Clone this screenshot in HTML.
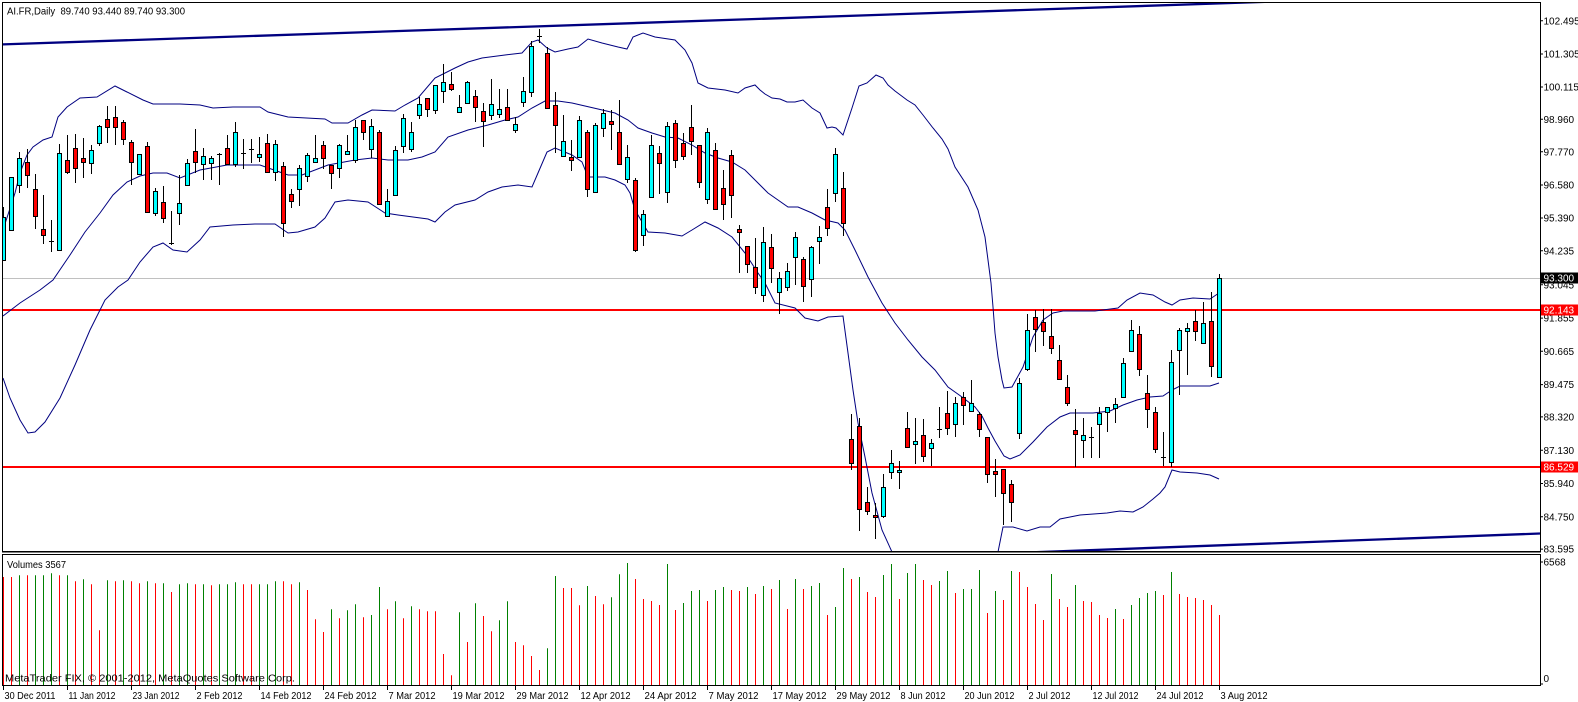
<!DOCTYPE html>
<html><head><meta charset="utf-8"><style>
html,body{margin:0;padding:0;background:#fff;}
svg{display:block;}
text{font-family:"Liberation Sans",Arial,sans-serif;font-size:10px;fill:#000;}
</style></head><body>
<svg width="1578" height="702" viewBox="0 0 1578 702" xmlns="http://www.w3.org/2000/svg">
<defs>
<clipPath id="cm"><rect x="3" y="3" width="1537" height="548"/></clipPath>
<clipPath id="cv"><rect x="3" y="555" width="1537" height="130"/></clipPath>
</defs>
<rect x="0" y="0" width="1578" height="702" fill="#fff"/>

<g clip-path="url(#cm)">
<line x1="3" y1="278.5" x2="1540" y2="278.5" stroke="#c0c0c0" stroke-width="1"/>
<line x1="3" y1="310" x2="1540" y2="310" stroke="#ff0000" stroke-width="2"/>
<line x1="3" y1="467" x2="1540" y2="467" stroke="#ff0000" stroke-width="2"/>
<line x1="0" y1="44.5" x2="1290" y2="1" stroke="#000080" stroke-width="2.3"/>
<line x1="1000" y1="553.5" x2="1540" y2="533.5" stroke="#000080" stroke-width="2.3"/>
<g fill="none" stroke="#000080" stroke-width="1">
<polyline points="3,230 15,193 20,173 27,155 33,147 43,140 52,137 58,117 67,107 80,98 97,97 115,86 127,92 143,100 153,104 180,104 200,105 213,108 233,107 260,107 268,112 288,117 325,119 332,123 348,123 362,115 372,110 395,111 405,105 418,98 435,78 455,68 468,62 482,58 505,55 522,53 532,42 538,40 547,48 555,52 568,49 578,47 588,39 602,43 618,47 627,49 633,37 643,33 655,37 675,40 685,50 692,63 698,83 708,88 725,90 738,93 745,88 755,85 760,90 765,94 772,98 780,99 787,102 795,102 803,100 812,108 820,113 827,128 832,127 836,128 843,135 852,108 859,86 867,83 876,75 883,78 888,85 895,91 907,100 915,105 923,115 933,128 942,139 948,149 955,167 968,187 978,210 985,237 988,260 991,283 993,307 995,333 998,357 1002,380 1004,388 1012,387 1023,367 1033,337 1043,320 1053,313 1063,311 1095,311 1118,308 1127,300 1140,293 1153,295 1165,302 1172,305 1180,300 1193,298 1210,299 1219,293"/>
<polyline points="3,316 20,303 40,290 53,280 70,255 85,232 100,213 113,195 127,182 140,176 153,173 167,173 180,178 200,170 227,165 260,165 288,175 302,175 328,165 355,160 372,158 388,160 408,160 422,157 435,152 448,137 468,130 488,125 505,120 518,117 532,108 545,101 558,101 572,103 585,106 598,109 615,113 628,120 638,128 652,133 665,137 678,138 692,145 705,153 718,158 732,162 745,170 755,180 768,193 788,207 798,207 812,213 825,220 838,223 845,230 855,250 868,277 882,303 895,323 908,340 922,357 935,370 948,387 962,397 975,407 982,416 988,428 995,441 1004,456 1010,459 1020,455 1033,442 1047,427 1060,417 1070,413 1093,413 1110,411 1123,405 1137,400 1150,397 1163,396 1172,390 1180,386 1193,386 1210,386 1219,383"/>
<polyline points="3,378 10,398 20,420 28,433 35,432 45,422 60,398 75,365 90,330 105,300 118,287 128,280 140,262 153,247 163,243 173,250 187,252 200,240 210,227 233,225 255,224 275,224 288,233 298,232 315,227 325,218 335,202 348,200 368,202 385,213 398,215 428,219 435,222 445,212 455,205 475,200 488,192 502,187 518,185 532,187 538,173 547,152 555,148 572,155 582,162 588,177 605,177 615,180 625,185 630,193 635,210 648,232 665,233 682,236 692,230 705,222 718,228 732,237 745,253 758,273 765,283 775,303 795,308 805,318 818,321 828,317 843,316 848,353 853,390 858,423 865,457 872,493 882,530 892,552 896,565"/>
<polyline points="995,565 998,552 1003,527 1013,527 1027,531 1040,527 1050,527 1060,519 1070,517 1080,515 1107,513 1120,511 1133,512 1143,507 1153,499 1160,493 1165,487 1172,470 1180,472 1197,473 1210,475 1219,479"/>
</g>
<path fill="none" stroke="#000" stroke-width="1" d="M3.5 207V260M11.5 177V230M19.5 152V193M27.5 149V188M35.5 174V229M43.5 195V244M51.5 220V252M59.5 144V250M67.5 135V174M75.5 134V183M83.5 138V178M91.5 145V174M99.5 125V146M107.5 106V143M115.5 106V145M123.5 120V145M131.5 140V185M139.5 154V174M147.5 142V213M155.5 188V216M163.5 186V223M171.5 211V245M179.5 175V225M187.5 159V185M195.5 129V173M203.5 148V180M211.5 156V180M219.5 153V185M227.5 135V165M235.5 122V167M243.5 139V169M251.5 139V163M259.5 137V162M267.5 134V173M275.5 140V181M283.5 162V237M291.5 189V208M299.5 165V206M307.5 153V182M315.5 135V162M323.5 141V169M331.5 165V189M339.5 144V178M347.5 135V154M355.5 120V163M363.5 120V140M371.5 119V158M379.5 130V205M387.5 189V216M395.5 146V196M403.5 114V153M411.5 122V152M419.5 97V119M427.5 98V117M435.5 85V114M443.5 64V103M451.5 72V91M459.5 95V112M467.5 81V103M475.5 90V122M483.5 103V147M491.5 79V120M499.5 89V118M507.5 89V120M515.5 117V133M523.5 77V107M531.5 41V97M539.5 29V43M547.5 47V108M555.5 92V153M563.5 115V157M571.5 140V171M579.5 116V157M587.5 130V197M595.5 123V192M603.5 109V137M611.5 110V150M619.5 100V164M627.5 145V183M635.5 178V252M643.5 210V246M651.5 135V197M659.5 146V194M667.5 122V203M675.5 120V168M683.5 133V160M691.5 105V155M699.5 145V188M707.5 128V204M715.5 143V209M723.5 170V220M731.5 150V218M739.5 225V273M747.5 246V273M755.5 238V294M763.5 227V302M771.5 234V283M779.5 272V314M787.5 263V291M795.5 232V285M803.5 257V302M811.5 246V297M819.5 226V264M827.5 189V236M835.5 148V202M843.5 172V236M851.5 414V470M859.5 418V531M867.5 487V515M875.5 503V539M883.5 474V518M891.5 450V479M899.5 461V489M907.5 412V448M915.5 418V464M923.5 419V462M931.5 439V466M939.5 407V438M947.5 391V435M955.5 397V437M963.5 392V425M971.5 380V412M979.5 412V437M987.5 437V483M995.5 459V497M1003.5 469V525M1011.5 480V522M1019.5 378V439M1027.5 314V371M1035.5 310V352M1043.5 309V346M1051.5 309V354M1059.5 345V379M1067.5 375V406M1075.5 409V467M1083.5 418V458M1091.5 427V458M1099.5 407V458M1107.5 407V432M1115.5 398V423M1123.5 358V397M1131.5 320V351M1139.5 326V376M1147.5 375V428M1155.5 407V453M1163.5 432V466M1171.5 350V467M1179.5 328V395M1187.5 323V375M1195.5 310V341M1203.5 302V343M1211.5 292V377M1219.5 274V377"/>
<path fill="none" stroke="#000" stroke-width="1" d="M49 241.5h5M169 243.5h5M217 154.5h5M241 153.5h5M249 149.5h5M537 36.5h5M937 429.5h5M1089 437.5h5M1161 457.5h5"/>
<path fill="#00ffff" stroke="#000" stroke-width="1" d="M1.5 217.5h4v43h-4zM9.5 177.5h4v53h-4zM17.5 158.5h4v27h-4zM57.5 153.5h4v97h-4zM89.5 150.5h4v13h-4zM97.5 126.5h4v17h-4zM137.5 154.5h4v20h-4zM153.5 191.5h4v22h-4zM177.5 203.5h4v10h-4zM185.5 163.5h4v22h-4zM201.5 156.5h4v8h-4zM209.5 158.5h4v5h-4zM233.5 132.5h4v32h-4zM257.5 154.5h4v3h-4zM273.5 144.5h4v28h-4zM297.5 168.5h4v21h-4zM305.5 155.5h4v21h-4zM313.5 158.5h4v4h-4zM337.5 145.5h4v23h-4zM345.5 151.5h4v3h-4zM353.5 127.5h4v33h-4zM369.5 126.5h4v23h-4zM385.5 201.5h4v15h-4zM393.5 150.5h4v45h-4zM401.5 118.5h4v28h-4zM409.5 132.5h4v17h-4zM417.5 104.5h4v11h-4zM433.5 85.5h4v25h-4zM441.5 82.5h4v9h-4zM457.5 107.5h4v5h-4zM465.5 82.5h4v21h-4zM489.5 104.5h4v11h-4zM497.5 109.5h4v5h-4zM513.5 124.5h4v6h-4zM521.5 91.5h4v11h-4zM529.5 46.5h4v46h-4zM561.5 141.5h4v15h-4zM577.5 120.5h4v37h-4zM593.5 125.5h4v67h-4zM601.5 113.5h4v15h-4zM625.5 157.5h4v22h-4zM641.5 214.5h4v21h-4zM649.5 145.5h4v52h-4zM665.5 126.5h4v66h-4zM705.5 132.5h4v67h-4zM761.5 242.5h4v53h-4zM777.5 278.5h4v14h-4zM785.5 271.5h4v16h-4zM793.5 237.5h4v20h-4zM809.5 247.5h4v32h-4zM817.5 237.5h4v4h-4zM833.5 154.5h4v39h-4zM881.5 487.5h4v29h-4zM889.5 463.5h4v9h-4zM897.5 470.5h4v2h-4zM913.5 441.5h4v3h-4zM929.5 443.5h4v5h-4zM953.5 403.5h4v21h-4zM969.5 403.5h4v8h-4zM1017.5 383.5h4v50h-4zM1025.5 330.5h4v39h-4zM1081.5 435.5h4v5h-4zM1097.5 413.5h4v11h-4zM1105.5 407.5h4v5h-4zM1113.5 404.5h4v4h-4zM1121.5 363.5h4v34h-4zM1129.5 330.5h4v21h-4zM1169.5 362.5h4v100h-4zM1177.5 330.5h4v20h-4zM1185.5 328.5h4v3h-4zM1201.5 323.5h4v20h-4zM1217.5 278.5h4v99h-4z"/>
<path fill="#ff0000" stroke="#000" stroke-width="1" d="M25.5 162.5h4v13h-4zM33.5 189.5h4v27h-4zM41.5 229.5h4v6h-4zM65.5 160.5h4v12h-4zM73.5 148.5h4v20h-4zM81.5 158.5h4v4h-4zM105.5 119.5h4v8h-4zM113.5 117.5h4v10h-4zM121.5 122.5h4v17h-4zM129.5 142.5h4v20h-4zM145.5 146.5h4v66h-4zM161.5 202.5h4v16h-4zM193.5 151.5h4v11h-4zM225.5 148.5h4v16h-4zM265.5 143.5h4v29h-4zM281.5 166.5h4v57h-4zM289.5 194.5h4v7h-4zM321.5 145.5h4v13h-4zM329.5 165.5h4v8h-4zM361.5 120.5h4v12h-4zM377.5 132.5h4v72h-4zM425.5 98.5h4v11h-4zM449.5 84.5h4v5h-4zM473.5 96.5h4v11h-4zM481.5 111.5h4v10h-4zM505.5 107.5h4v13h-4zM545.5 53.5h4v55h-4zM553.5 105.5h4v20h-4zM569.5 157.5h4v3h-4zM585.5 132.5h4v57h-4zM609.5 121.5h4v3h-4zM617.5 132.5h4v32h-4zM633.5 180.5h4v70h-4zM657.5 153.5h4v10h-4zM673.5 123.5h4v37h-4zM681.5 143.5h4v13h-4zM689.5 127.5h4v14h-4zM697.5 145.5h4v37h-4zM713.5 150.5h4v59h-4zM721.5 188.5h4v16h-4zM729.5 155.5h4v40h-4zM737.5 229.5h4v3h-4zM745.5 246.5h4v18h-4zM753.5 267.5h4v20h-4zM769.5 247.5h4v21h-4zM801.5 259.5h4v27h-4zM825.5 207.5h4v21h-4zM841.5 188.5h4v35h-4zM849.5 439.5h4v24h-4zM857.5 426.5h4v83h-4zM865.5 502.5h4v9h-4zM873.5 515.5h4v2h-4zM905.5 428.5h4v19h-4zM921.5 435.5h4v21h-4zM945.5 413.5h4v15h-4zM961.5 397.5h4v8h-4zM977.5 414.5h4v15h-4zM985.5 437.5h4v37h-4zM993.5 471.5h4v3h-4zM1001.5 469.5h4v24h-4zM1009.5 484.5h4v18h-4zM1033.5 317.5h4v12h-4zM1041.5 322.5h4v9h-4zM1049.5 336.5h4v12h-4zM1057.5 360.5h4v19h-4zM1065.5 387.5h4v16h-4zM1073.5 430.5h4v4h-4zM1137.5 334.5h4v35h-4zM1145.5 393.5h4v16h-4zM1153.5 412.5h4v37h-4zM1193.5 321.5h4v10h-4zM1209.5 321.5h4v45h-4z"/>
</g>

<g clip-path="url(#cv)">
<path fill="none" stroke="#ff0000" stroke-width="1" d="M3.5 577V685M11.5 577V685M27.5 575.3V685M59.5 575.3V685M75.5 581.3V685M91.5 584.3V685M99.5 630.3V685M115.5 581.3V685M131.5 581.3V685M139.5 583.3V685M155.5 583.3V685M171.5 592V685M195.5 584.3V685M211.5 585.3V685M243.5 584.3V685M251.5 584.3V685M283.5 581.3V685M291.5 584.3V685M307.5 590V685M315.5 619.3V685M323.5 632V685M339.5 618.3V685M363.5 617.3V685M387.5 609.3V685M403.5 618.3V685M419.5 609.3V685M427.5 611.3V685M435.5 611.3V685M443.5 654V685M451.5 675.3V685M467.5 642V685M483.5 616V685M491.5 631.3V685M515.5 642V685M523.5 645.3V685M531.5 656V685M539.5 670V685M563.5 588V685M571.5 588V685M579.5 605.3V685M595.5 596V685M603.5 604.3V685M635.5 579V685M643.5 599V685M651.5 601V685M659.5 605V685M675.5 610V685M707.5 601V685M731.5 590V685M739.5 591V685M755.5 594V685M771.5 589V685M787.5 609V685M803.5 589V685M827.5 615V685M851.5 579V685M867.5 592V685M875.5 597V685M899.5 599V685M923.5 580V685M931.5 585V685M955.5 593V685M987.5 613V685M1003.5 600V685M1019.5 572V685M1027.5 587V685M1035.5 604V685M1043.5 620V685M1059.5 599V685M1067.5 607V685M1083.5 601V685M1091.5 602V685M1099.5 615V685M1107.5 618V685M1123.5 619V685M1163.5 595V685M1179.5 594V685M1187.5 597V685M1195.5 598V685M1203.5 600V685M1211.5 605V685M1219.5 615V685"/>
<path fill="none" stroke="#008000" stroke-width="1" d="M19.5 575.3V685M35.5 575.3V685M43.5 575.3V685M51.5 573.3V685M67.5 575.3V685M83.5 579.3V685M107.5 580.3V685M123.5 580.3V685M147.5 581.3V685M163.5 583.3V685M179.5 584.3V685M187.5 583.3V685M203.5 584.3V685M219.5 584.3V685M227.5 584.3V685M235.5 582.3V685M259.5 584.3V685M267.5 584.3V685M275.5 581.3V685M299.5 582.3V685M331.5 609.3V685M347.5 610.3V685M355.5 604.3V685M371.5 615V685M379.5 587V685M395.5 601.3V685M411.5 606.3V685M459.5 612.3V685M475.5 603.3V685M499.5 620.3V685M507.5 601.3V685M547.5 648.3V685M555.5 576V685M587.5 586V685M611.5 597.3V685M619.5 574.3V685M627.5 563V685M667.5 564V685M683.5 603V685M691.5 591V685M699.5 590V685M715.5 590V685M723.5 587V685M747.5 587V685M763.5 586V685M779.5 580V685M795.5 579V685M811.5 586V685M819.5 583V685M835.5 607V685M843.5 568V685M859.5 577V685M883.5 575V685M891.5 564V685M907.5 573V685M915.5 564V685M939.5 581V685M947.5 571V685M963.5 589V685M971.5 589V685M979.5 570V685M995.5 591V685M1011.5 571V685M1051.5 574V685M1075.5 585V685M1115.5 609V685M1131.5 605V685M1139.5 598V685M1147.5 593V685M1155.5 591V685M1171.5 572V685"/>
</g>

<rect x="2.5" y="2.5" width="1538" height="549" fill="none" stroke="#000" stroke-width="1"/>
<line x1="2" y1="552" x2="1541" y2="552" stroke="#000" stroke-width="1"/>
<rect x="2.5" y="554.5" width="1538" height="131" fill="none" stroke="#000" stroke-width="1"/>

<path fill="none" stroke="#000" stroke-width="1" d="M1541 20.8h2M1541 54h2M1541 87h2M1541 119.2h2M1541 151.8h2M1541 185h2M1541 218h2M1541 250.8h2M1541 284.8h2M1541 318.1h2M1541 351.3h2M1541 384.6h2M1541 416.9h2M1541 450.2h2M1541 483.5h2M1541 516.8h2M1541 549.1h2M1541 562h2M1541 684h2"/>
<text x="1543.5" y="24.4">102.495</text>
<text x="1543.5" y="57.6">101.305</text>
<text x="1543.5" y="90.6">100.115</text>
<text x="1543.5" y="122.8">98.960</text>
<text x="1543.5" y="155.4">97.770</text>
<text x="1543.5" y="188.6">96.580</text>
<text x="1543.5" y="221.6">95.390</text>
<text x="1543.5" y="254.4">94.235</text>
<text x="1543.5" y="288.4">93.045</text>
<text x="1543.5" y="321.7">91.855</text>
<text x="1543.5" y="354.9">90.665</text>
<text x="1543.5" y="388.2">89.475</text>
<text x="1543.5" y="420.5">88.320</text>
<text x="1543.5" y="453.8">87.130</text>
<text x="1543.5" y="487.1">85.940</text>
<text x="1543.5" y="520.4">84.750</text>
<text x="1543.5" y="552.5">83.595</text>
<text x="1543.5" y="565.5">6568</text>
<text x="1543.5" y="681.8">0</text>
<rect x="1541" y="272.5" width="37" height="11" fill="#000"/>
<text x="1543.5" y="281.6" style="fill:#fff">93.300</text>
<rect x="1541" y="304.5" width="37" height="11" fill="#ff0000"/>
<text x="1543.5" y="313.6" style="fill:#fff">92.143</text>
<rect x="1541" y="461.5" width="37" height="11" fill="#ff0000"/>
<text x="1543.5" y="470.6" style="fill:#fff">86.529</text>

<path fill="none" stroke="#000" stroke-width="1" d="M3.5 686v4M67.5 686v4M131.5 686v4M195.5 686v4M259.5 686v4M323.5 686v4M387.5 686v4M451.5 686v4M515.5 686v4M579.5 686v4M643.5 686v4M707.5 686v4M771.5 686v4M835.5 686v4M899.5 686v4M963.5 686v4M1027.5 686v4M1091.5 686v4M1155.5 686v4M1219.5 686v4"/>
<text x="4.5" y="699" textLength="51" lengthAdjust="spacingAndGlyphs">30 Dec 2011</text>
<text x="68.5" y="699" textLength="47" lengthAdjust="spacingAndGlyphs">11 Jan 2012</text>
<text x="132.5" y="699" textLength="47" lengthAdjust="spacingAndGlyphs">23 Jan 2012</text>
<text x="196.5" y="699" textLength="46" lengthAdjust="spacingAndGlyphs">2 Feb 2012</text>
<text x="260.5" y="699" textLength="51" lengthAdjust="spacingAndGlyphs">14 Feb 2012</text>
<text x="324.5" y="699" textLength="52" lengthAdjust="spacingAndGlyphs">24 Feb 2012</text>
<text x="388.5" y="699" textLength="47" lengthAdjust="spacingAndGlyphs">7 Mar 2012</text>
<text x="452.5" y="699" textLength="52" lengthAdjust="spacingAndGlyphs">19 Mar 2012</text>
<text x="516.5" y="699" textLength="52" lengthAdjust="spacingAndGlyphs">29 Mar 2012</text>
<text x="580.5" y="699" textLength="50" lengthAdjust="spacingAndGlyphs">12 Apr 2012</text>
<text x="644.5" y="699" textLength="52" lengthAdjust="spacingAndGlyphs">24 Apr 2012</text>
<text x="708.5" y="699" textLength="50" lengthAdjust="spacingAndGlyphs">7 May 2012</text>
<text x="772.5" y="699" textLength="54" lengthAdjust="spacingAndGlyphs">17 May 2012</text>
<text x="836.5" y="699" textLength="54" lengthAdjust="spacingAndGlyphs">29 May 2012</text>
<text x="900.5" y="699" textLength="45" lengthAdjust="spacingAndGlyphs">8 Jun 2012</text>
<text x="964.5" y="699" textLength="50" lengthAdjust="spacingAndGlyphs">20 Jun 2012</text>
<text x="1028.5" y="699" textLength="42" lengthAdjust="spacingAndGlyphs">2 Jul 2012</text>
<text x="1092.5" y="699" textLength="46" lengthAdjust="spacingAndGlyphs">12 Jul 2012</text>
<text x="1156.5" y="699" textLength="47" lengthAdjust="spacingAndGlyphs">24 Jul 2012</text>
<text x="1220.5" y="699" textLength="47" lengthAdjust="spacingAndGlyphs">3 Aug 2012</text>

<text x="7" y="14.5" textLength="178" lengthAdjust="spacingAndGlyphs">AI.FR,Daily&#160; 89.740 93.440 89.740 93.300</text>
<text x="7" y="568" textLength="59" lengthAdjust="spacingAndGlyphs">Volumes 3567</text>
<text x="5" y="681.5" textLength="290" lengthAdjust="spacingAndGlyphs" style="font-size:10.5px">MetaTrader FIX, © 2001-2012, MetaQuotes Software Corp.</text>
</svg>
</body></html>
